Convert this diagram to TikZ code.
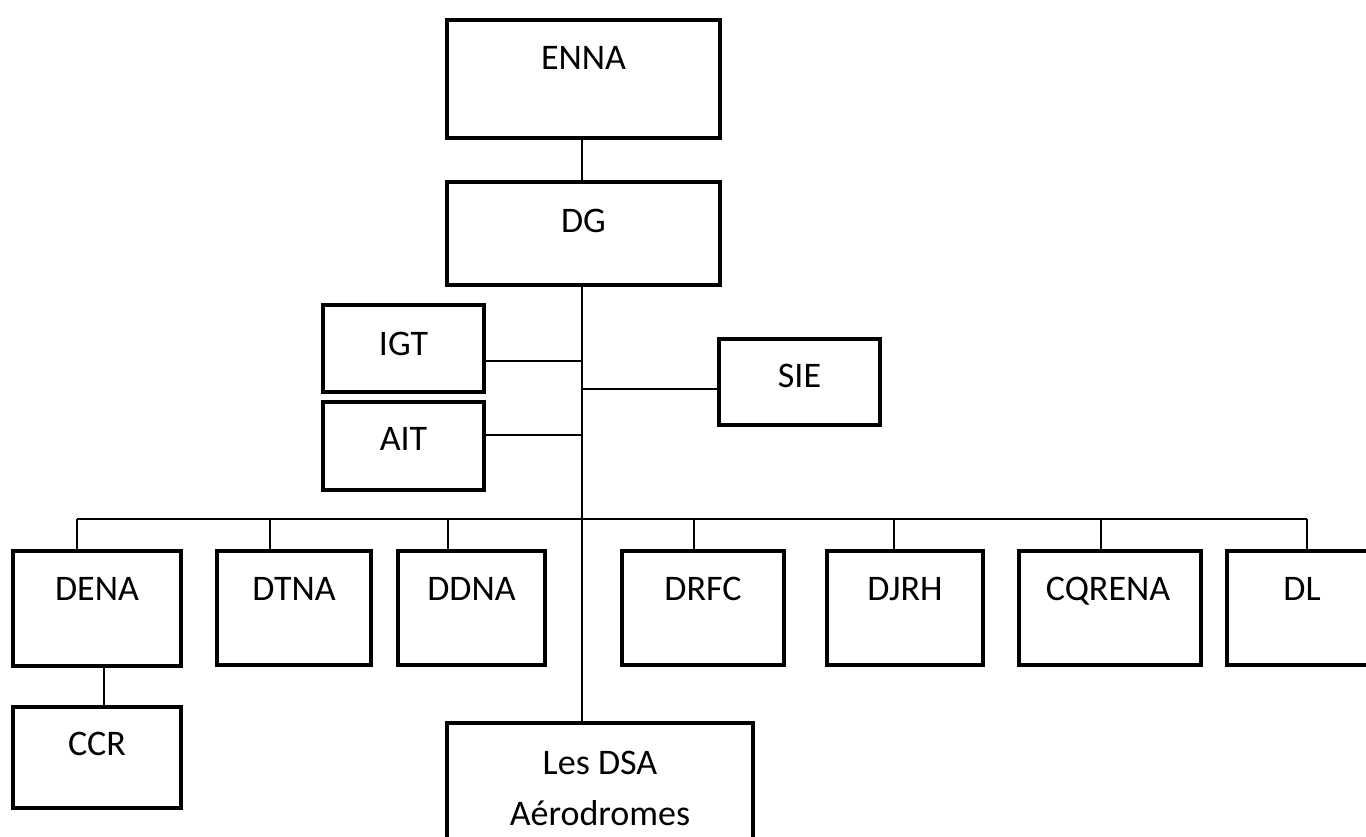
\documentclass[tikz,border=0pt]{standalone}
\usepackage{fontspec}
\setmainfont{Carlito}
\tikzset{
  x=1pt, y=-1pt,
  orgbox/.style={draw=black, line width=4.5pt, fill=none, inner sep=0pt, rectangle},
  orgtext/.style={anchor=base, inner sep=0pt, font=\fontsize{36}{43}\selectfont},
  link/.style={draw=black, line width=2pt},
}
\newcommand\obox[5]{% name, x1, y1, x2, y2
  \node[orgbox, minimum width={#4-#2}, minimum height={#5-#3}] (#1) at ({(#2+#4)/2},{(#3+#5)/2}) {};}
\begin{document}
\begin{tikzpicture}
\useasboundingbox (0,0) rectangle (1366,836);
\clip (0,0) rectangle (1366,836);
\fill[white] (0,0) rectangle (1366,836);
% boxes
\obox{enna}{447}{20}{720}{138}
\obox{dg}{447}{182}{720}{285}
\obox{igt}{323}{305}{484}{392}
\obox{ait}{323}{402}{484}{490}
\obox{sie}{719}{339}{880}{425}
\obox{dena}{13}{551}{181}{666}
\obox{dtna}{217}{551}{371}{665}
\obox{ddna}{398}{551}{545}{665}
\obox{drfc}{622}{551}{784}{665}
\obox{djrh}{827}{551}{983}{665}
\obox{cqrena}{1019}{551}{1201}{665}
\obox{dl}{1227}{551}{1378}{665}
\obox{ccr}{13}{707}{181}{808}
\obox{dsa}{447}{723}{753}{880}
% texts
\node[orgtext] (ennat) at (583.5,69) {ENNA};
\node[orgtext] (dgt) at (583.5,232) {DG};
\node[orgtext] (igtt) at (403.5,355) {IGT};
\node[orgtext] (aitt) at (403.5,450) {AIT};
\node[orgtext] (siet) at (799.5,387) {SIE};
\node[orgtext] (denat) at (97,600) {DENA};
\node[orgtext] (dtnat) at (294,600) {DTNA};
\node[orgtext] (ddnat) at (471.5,600) {DDNA};
\node[orgtext] (drfct) at (703,600) {DRFC};
\node[orgtext] (djrht) at (905,600) {DJRH};
\node[orgtext] (cqrenat) at (1108,600) {CQRENA};
\node[orgtext] (dlt) at (1302,600) {DL};
\node[orgtext] (ccrt) at (97,755) {CCR};
\node[orgtext] (dsat1) at (600,774) {Les DSA};
\node[orgtext] (dsat2) at (600,825) {Aérodromes};
% connector coordinates
\coordinate (trunk) at (582,0);
\coordinate (igtl) at (0,361);
\coordinate (aitl) at (0,435);
\coordinate (siel) at (0,389);
\coordinate (t1) at (77,519);
\coordinate (t2) at (270,519);
\coordinate (t3) at (448,519);
\coordinate (t4) at (694,519);
\coordinate (t5) at (894,519);
\coordinate (t6) at (1101,519);
\coordinate (t7) at (1307,519);
\coordinate (cc) at (104,0);
% connectors
\draw[link] (enna.south -| trunk) -- (dg.north -| trunk);
\draw[link] (dg.south -| trunk) -- (dsa.north -| trunk);
\draw[link] (igt.east |- igtl) -- (trunk |- igtl);
\draw[link] (ait.east |- aitl) -- (trunk |- aitl);
\draw[link] (trunk |- siel) -- (sie.west |- siel);
\draw[link] (t1) -- (t7);
\draw[link] (t1) -- (t1 |- dena.north);
\draw[link] (t2) -- (t2 |- dtna.north);
\draw[link] (t3) -- (t3 |- ddna.north);
\draw[link] (t4) -- (t4 |- drfc.north);
\draw[link] (t5) -- (t5 |- djrh.north);
\draw[link] (t6) -- (t6 |- cqrena.north);
\draw[link] (t7) -- (t7 |- dl.north);
\draw[link] (dena.south -| cc) -- (ccr.north -| cc);
\end{tikzpicture}
\end{document}
